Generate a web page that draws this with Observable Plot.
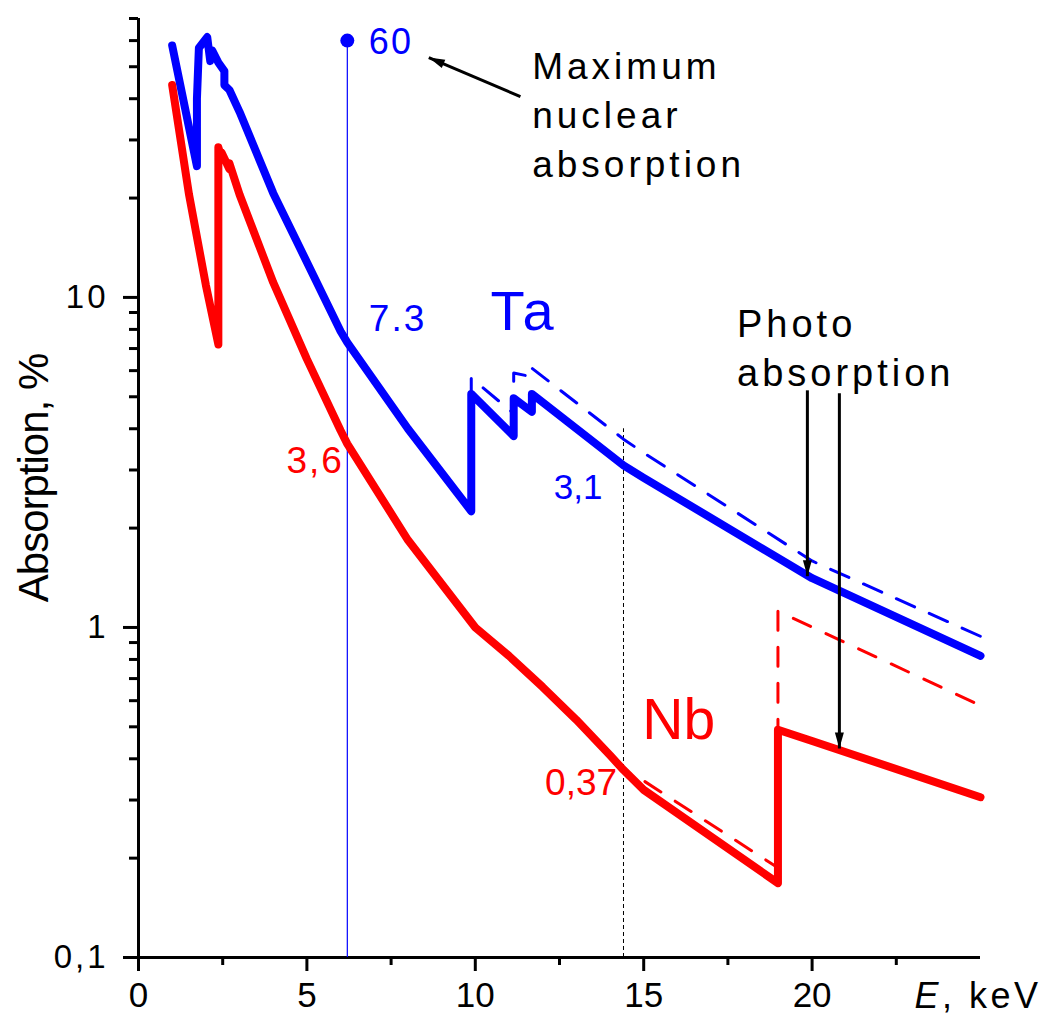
<!DOCTYPE html>
<html>
<head>
<meta charset="utf-8">
<script src="https://cdn.jsdelivr.net/npm/d3@7"></script>
<script src="https://cdn.jsdelivr.net/npm/@observablehq/plot@0.6"></script>
<style>
  html, body { margin: 0; padding: 0; background: #fff; }
</style>
</head>
<body>
<div id="chart"></div>
<script>
const blue = "#0000ff";
const red = "#ff0000";

// Ta: photo absorption (solid curve), E in keV, absorption in %
const taE = [1.0, 1.735, 1.735, 1.793, 2.04, 2.13, 2.19, 2.37, 2.55, 2.55, 2.7, 3.0, 4.0, 6.0, 6.2, 8.0, 9.88, 9.88, 11.14, 11.14, 11.68, 11.68, 14.4, 15, 20, 25];
const taA = [58, 25, 40, 57, 61.5, 52, 56, 51.5, 48.5, 44, 42.5, 36.5, 20.7, 7.9, 7.3, 4.0, 2.25, 5.1, 3.8, 4.95, 4.5, 5.1, 3.1, 2.84, 1.41, 0.82];
// Ta: total absorption (dashed), where it leaves the photo curve above the L3 edge
const taTotalE = [9.88, 11.14, 11.14, 11.68, 11.68, 14.4, 15, 20, 25];
const taTotalA = [5.7, 4.45, 5.9, 5.75, 6.1, 3.72, 3.38, 1.59, 0.94];

// Nb: photo absorption (solid curve)
const nbE = [1.0, 1.5, 2.0, 2.371, 2.371, 2.465, 2.465, 2.698, 2.698, 3.0, 4.0, 5.0, 6.0, 6.2, 8.0, 10, 11, 12, 13, 14, 14.4, 15, 18.986, 18.986, 20, 25];
const nbA = [44, 20.5, 10.9, 7.2, 28.5, 26.5, 27.5, 24.5, 25.5, 20.5, 11.1, 6.5, 3.95, 3.6, 1.84, 1.0, 0.82, 0.66, 0.525, 0.41, 0.37, 0.322, 0.168, 0.49, 0.453, 0.306];
// Nb: total absorption (dashed) beyond 14.4 keV
const nbTotalE = [15, 18.986, 18.986, 25];
const nbTotalA = [0.343, 0.187, 1.12, 0.58];

// Mössbauer lines: Ta-181 (6.2 keV, max nuclear absorption 60 %) and Fe-57 (14.4 keV)
const nuclearE = [6.2, 14.4];
const nuclearTop = [60, 4];

// Axis ticks
const xMajor = [0, 5, 10, 15, 20];
const xMinor = [2.5, 7.5, 12.5, 17.5, 22.5];
const yMajor = [0.1, 1, 10];
const yMajorText = ["0,1", "1", "10"];
const yMinor = [0.2, 0.3, 0.4, 0.5, 0.6, 0.7, 0.8, 0.9, 2, 3, 4, 5, 6, 7, 8, 9, 20, 30, 40, 50, 60, 70];

const table = (E, A) => E.map((e, i) => ({E: e, A: A[i]}));
const ta = table(taE, taA);
const nb = table(nbE, nbA);
const taL3 = taE.indexOf(9.88) + 1;
const nb144 = nbE.indexOf(14.4) + 1;
const taTotal = table(taE.slice(0, taL3), taA.slice(0, taL3)).concat(table(taTotalE, taTotalA));
const nbTotal = table(nbE.slice(0, nb144), nbA.slice(0, nb144)).concat(table(nbTotalE, nbTotalA));

const valueAt = (E, A, e) => A[E.indexOf(e)];

const note = (text, x, y, o) => Plot.text([text], {x: () => x, y: () => y, text: d => d, ...o});

// filled triangular arrowhead for the annotation pointers
function filledHead(color, context) {
  const ns = "http://www.w3.org/2000/svg";
  const doc = (context && context.document) || document;
  const m = doc.createElementNS(ns, "marker");
  m.setAttribute("viewBox", "-16 -5 16 10");
  m.setAttribute("markerWidth", "16");
  m.setAttribute("markerHeight", "10");
  m.setAttribute("markerUnits", "userSpaceOnUse");
  m.setAttribute("orient", "auto");
  m.setAttribute("overflow", "visible");
  const p = doc.createElementNS(ns, "path");
  p.setAttribute("d", "M-16,-4.5L0,0L-16,4.5Z");
  p.setAttribute("fill", color);
  p.setAttribute("stroke", "none");
  m.appendChild(p);
  return m;
}

const chart = Plot.plot({
  width: 1048,
  height: 1016,
  marginLeft: 138,
  marginRight: 68,
  marginTop: 18,
  marginBottom: 59,
  style: {fontFamily: '"Liberation Sans", Arial, sans-serif', background: "#fff", color: "#000"},
  x: {domain: [0, 25], label: null},
  y: {type: "log", domain: [0.1, 70], label: null},
  marks: [
    // axes
    Plot.axisX(xMajor, {tickSize: 14, tickPadding: 11, strokeWidth: 3, fontSize: 35, label: null, tickFormat: d => String(d)}),
    Plot.axisX(xMinor, {tickSize: 8, strokeWidth: 3, label: null, tickFormat: () => ""}),
    Plot.axisY(yMajor, {tickSize: 15, tickPadding: 15, strokeWidth: 3, fontSize: 33, label: null, tickFormat: d => yMajorText[yMajor.indexOf(d)]}),
    Plot.axisY(yMinor, {tickSize: 9, strokeWidth: 3, label: null, tickFormat: () => ""}),
    Plot.ruleX([0], {y1: 0.1, y2: 70, strokeWidth: 3}),
    Plot.ruleY([0.1], {x1: 0, x2: 25, strokeWidth: 3}),

    // nuclear lines
    Plot.ruleX([nuclearE[0]], {y1: 0.1, y2: nuclearTop[0], stroke: blue, strokeWidth: 1.2}),
    Plot.ruleX([nuclearE[1]], {y1: 0.1, y2: nuclearTop[1], stroke: "#000", strokeWidth: 1, strokeDasharray: "4,3"}),
    Plot.dot([nuclearTop[0]], {x: () => nuclearE[0], y: d => d, r: 7, fill: blue, stroke: "none"}),

    // total absorption (dashed)
    Plot.line(taTotal, {x: "E", y: "A", stroke: blue, strokeWidth: 3, strokeDasharray: "20,16"}),
    Plot.line(nbTotal, {x: "E", y: "A", stroke: red, strokeWidth: 3, strokeDasharray: "19,17"}),

    // photo absorption (solid)
    Plot.line(ta, {x: "E", y: "A", stroke: blue, strokeWidth: 8, strokeLinejoin: "round", strokeLinecap: "round"}),
    Plot.line(nb, {x: "E", y: "A", stroke: red, strokeWidth: 8, strokeLinejoin: "round", strokeLinecap: "round"}),

    // value labels
    note(String(nuclearTop[0]), 6.84, 59.3, {fill: blue, fontSize: 36, textAnchor: "start"}),
    note(String(valueAt(taE, taA, 6.2)), 6.84, 8.62, {fill: blue, fontSize: 37, textAnchor: "start"}),
    note(String(valueAt(nbE, nbA, 6.2)).replace(".", ","), 6.1, 3.18, {fill: red, fontSize: 37, textAnchor: "end"}),
    note(String(valueAt(taE, taA, 14.4)).replace(".", ","), 12.33, 2.65, {fill: blue, fontSize: 35, textAnchor: "start"}),
    note(String(valueAt(nbE, nbA, 14.4)).replace(".", ","), 14.21, 0.337, {fill: red, fontSize: 37, textAnchor: "end"}),
    note("Ta", 10.45, 9.03, {fill: blue, fontSize: 56, textAnchor: "start"}),
    note("Nb", 14.96, 0.52, {fill: red, fontSize: 57, textAnchor: "start"}),

    // annotations
    note("Maximum\nnuclear\nabsorption", 11.69, 58.7, {fontSize: 37, textAnchor: "start", lineAnchor: "top", lineHeight: 1.33}),
    Plot.link([0], {x1: () => 11.34, y1: () => 40.6, x2: () => 8.62, y2: () => 53.3, strokeWidth: 3, markerEnd: filledHead}),
    note("Photo\nabsorption", 17.77, 9.68, {fontSize: 38, textAnchor: "start", lineAnchor: "top", lineHeight: 1.29}),
    Plot.link([0], {x1: () => 19.86, y1: () => 5.23, x2: () => 19.86, y2: () => 1.43, strokeWidth: 3, markerEnd: filledHead}),
    Plot.link([0], {x1: () => 20.81, y1: () => 5.12, x2: () => 20.81, y2: () => 0.43, strokeWidth: 3, markerEnd: filledHead}),

    // axis titles
    Plot.text(["Absorption, %"], {frameAnchor: "left", dx: -104, dy: -10, rotate: -90, fontSize: 42, textAnchor: "middle"}),
    Plot.text(["E, keV"], {x: () => 23.04, frameAnchor: "bottom", dy: 25, lineAnchor: "top", textAnchor: "start", fontSize: 36})
  ]
});

const svg = d3.select(chart);
svg.selectAll("text").each(function () {
  const t = this.textContent;
  if (t.startsWith("Maximum") || t.startsWith("Photo")) this.setAttribute("letter-spacing", "4");
  else if (t === "Ta") this.setAttribute("letter-spacing", "4");
  else if (t === "3,6" || t === "7.3" || t === "60") this.setAttribute("letter-spacing", "2");
  else if (t === "Absorption, %") this.setAttribute("letter-spacing", "-1");
  else if (t === "E, keV") {
    this.setAttribute("letter-spacing", "3.5");
    this.textContent = "";
    const ns = "http://www.w3.org/2000/svg";
    const e = document.createElementNS(ns, "tspan");
    e.setAttribute("font-style", "italic");
    e.textContent = "E";
    const rest = document.createElementNS(ns, "tspan");
    rest.textContent = ", keV";
    this.appendChild(e);
    this.appendChild(rest);
  }
});
svg.selectAll('g[aria-label="y-axis tick label"] text').attr("letter-spacing", "3");

document.getElementById("chart").appendChild(chart);
</script>
</body>
</html>
